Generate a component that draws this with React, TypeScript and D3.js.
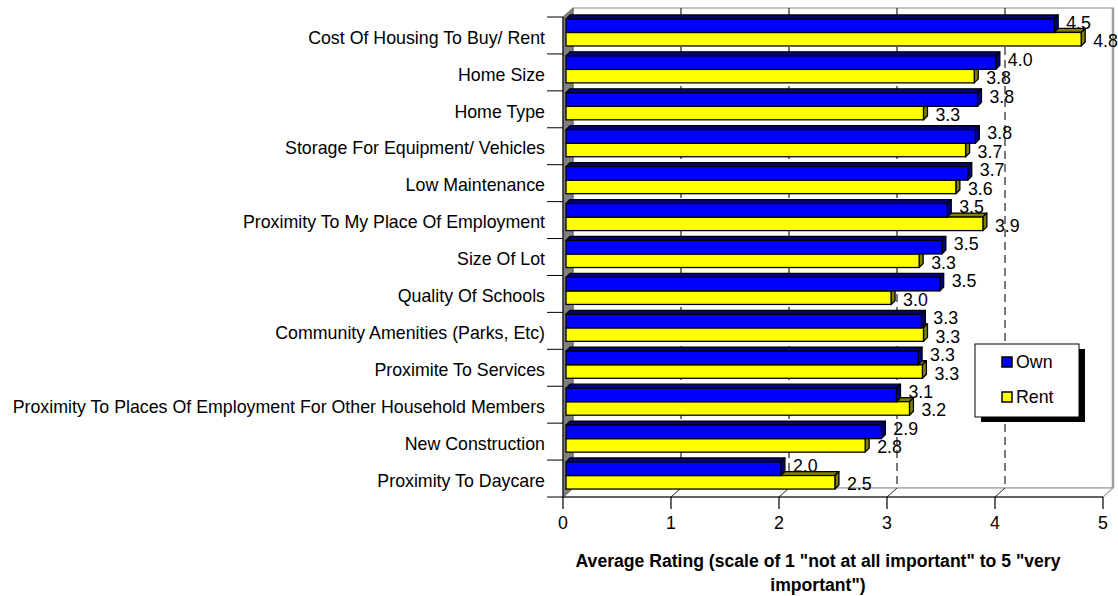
import React from "react";
import * as d3 from "d3";

const categories = [
  "Cost Of Housing To Buy/ Rent",
  "Home Size",
  "Home Type",
  "Storage For Equipment/ Vehicles",
  "Low Maintenance",
  "Proximity To My Place Of Employment",
  "Size Of Lot",
  "Quality Of Schools",
  "Community Amenities (Parks, Etc)",
  "Proximite To Services",
  "Proximity To Places Of Employment For Other Household Members",
  "New Construction",
  "Proximity To Daycare",
];
const ownValues = [4.52, 3.98, 3.81, 3.79, 3.72, 3.53, 3.48, 3.46, 3.29, 3.26, 3.06, 2.92, 1.99];
const rentValues = [4.77, 3.78, 3.31, 3.7, 3.61, 3.86, 3.27, 3.01, 3.31, 3.3, 3.18, 2.77, 2.49];
const seriesNames = ["Own", "Rent"];
const xTicks = [0, 1, 2, 3, 4, 5];
const axisTitleLines = ['Average Rating (scale of 1 "not at all important" to 5 "very', 'important")'];

const W = 1118;
const H = 596;
const FONT = "'Liberation Sans', Arial, Helvetica, sans-serif";

const frontFill = ["#0000FF", "#FFFF00"];
const sideFill = ["#000080", "#808000"];

export default function App() {
  const x = d3.scaleLinear().domain([0, 5]).range([563, 1103]);
  const y = d3.scaleBand<string>().domain(categories).range([17, 497]);
  const bw = y.bandwidth();
  const barH = bw * 0.366;
  const barOff = (bw - 2 * barH) / 2;
  const wallDx = 10, wallDy = -9;
  const bfDx = 3, bfDy = -3;
  const bDx = 4, bDy = -4;

  const top = 17, bottom = 497;
  const left = x(0), right = x(5);

  const series = [ownValues, rentValues];

  const bars: JSX.Element[] = [];
  const labels: JSX.Element[] = [];
  for (let ci = categories.length - 1; ci >= 0; ci--) {
    const band = y(categories[ci]) as number;
    for (let si = 1; si >= 0; si--) {
      const v = series[si][ci];
      const x0 = x(0) + bfDx;
      const x1 = x(v) + bfDx;
      const y0 = band + barOff + si * barH + bfDy;
      const y1 = y0 + barH;
      const topFace = [[x0, y0], [x0 + bDx, y0 + bDy], [x1 + bDx, y0 + bDy], [x1, y0]];
      const rightFace = [[x1, y0], [x1 + bDx, y0 + bDy], [x1 + bDx, y1 + bDy], [x1, y1]];
      const pts = (p: number[][]) => p.map((q) => q.join(",")).join(" ");
      bars.push(
        <g key={`b-${ci}-${si}`}>
          <polygon points={pts(topFace)} fill={sideFill[si]} stroke="#000" strokeWidth={1.3} strokeLinejoin="round" />
          <polygon points={pts(rightFace)} fill={sideFill[si]} stroke="#000" strokeWidth={1.3} strokeLinejoin="round" />
          <rect x={x0} y={y0} width={x1 - x0} height={barH} fill={frontFill[si]} stroke="#000" strokeWidth={1.3} />
        </g>
      );
      const ly = si === 0 ? band + 5.5 : band + 24;
      labels.push(
        <text key={`l-${ci}-${si}`} x={x1 + 12} y={ly} dy="0.35em" fontSize={17.8} fontFamily={FONT} fill="#000">
          {v.toFixed(1)}
        </text>
      );
    }
  }

  return (
    <svg width={W} height={H} style={{ position: "absolute", left: 0, top: 0, background: "#fff" }}>
      <polygon
        points={`${left + wallDx},${top + wallDy} ${right + wallDx},${top + wallDy} ${right + wallDx},${bottom + wallDy} ${left + wallDx},${bottom + wallDy}`}
        fill="#fff"
        stroke="#b0b0b0"
        strokeWidth={1.5}
      />
      <polygon
        points={`${left},${bottom} ${left + wallDx},${bottom + wallDy} ${right + wallDx},${bottom + wallDy} ${right},${bottom}`}
        fill="#fff"
        stroke="#b0b0b0"
        strokeWidth={1.5}
      />
      <line x1={right + wallDx} y1={top + wallDy} x2={right + wallDx} y2={bottom + wallDy} stroke="#a0a0a0" strokeWidth={2.5} />
      {xTicks.slice(1, -1).map((t) => (
        <g key={`g-${t}`}>
          <line x1={x(t) + wallDx} y1={top + wallDy} x2={x(t) + wallDx} y2={bottom + wallDy} stroke="#222" strokeWidth={1.2} strokeDasharray="8,5" />
          <line x1={x(t)} y1={bottom} x2={x(t) + wallDx} y2={bottom + wallDy} stroke="#222" strokeWidth={1} />
        </g>
      ))}
      <polygon
        points={`${left},${top} ${left + wallDx},${top + wallDy} ${left + wallDx},${bottom + wallDy} ${left},${bottom}`}
        fill="#808080"
        stroke="#606060"
        strokeWidth={1}
      />
      {bars}
      <line x1={left} y1={top} x2={left} y2={bottom} stroke="#000" strokeWidth={1} />
      <line x1={left} y1={bottom} x2={right} y2={bottom} stroke="#000" strokeWidth={1.2} />
      {xTicks.map((t) => (
        <g key={`t-${t}`}>
          <line x1={x(t)} y1={bottom} x2={x(t)} y2={bottom + 12} stroke="#000" strokeWidth={1.2} />
          <text x={x(t)} y={523} dy="0.35em" textAnchor="middle" fontSize={17.8} fontFamily={FONT} fill="#000">
            {t}
          </text>
        </g>
      ))}
      {categories.map((c, i) => (
        <line key={`ct-${i}`} x1={547} y1={y(c) as number} x2={left} y2={y(c) as number} stroke="#000" strokeWidth={1} />
      ))}
      <line x1={547} y1={bottom} x2={left} y2={bottom} stroke="#000" strokeWidth={1} />
      {categories.map((c) => (
        <text key={`cl-${c}`} x={545} y={(y(c) as number) + bw / 2 + 2} dy="0.35em" textAnchor="end" fontSize={17.8} fontFamily={FONT} fill="#000">
          {c}
        </text>
      ))}
      {labels}
      {axisTitleLines.map((s, i) => (
        <text key={`at-${i}`} x={818} y={561 + i * 24} dy="0.35em" textAnchor="middle" fontSize={17.6} fontWeight="bold" fontFamily={FONT} fill="#000">
          {s}
        </text>
      ))}
      <rect x={981} y={349} width={104} height={73} fill="#000" />
      <rect x={975} y={344} width={104} height={73} fill="#fff" stroke="#000" strokeWidth={1} />
      {seriesNames.map((s, i) => (
        <g key={`lg-${s}`}>
          <rect x={1002} y={357 + i * 35} width={10} height={10} fill={frontFill[i]} stroke="#000" strokeWidth={1.5} />
          <text x={1016} y={362 + i * 35} dy="0.35em" fontSize={17.8} fontFamily={FONT} fill="#000">
            {s}
          </text>
        </g>
      ))}
    </svg>
  );
}
